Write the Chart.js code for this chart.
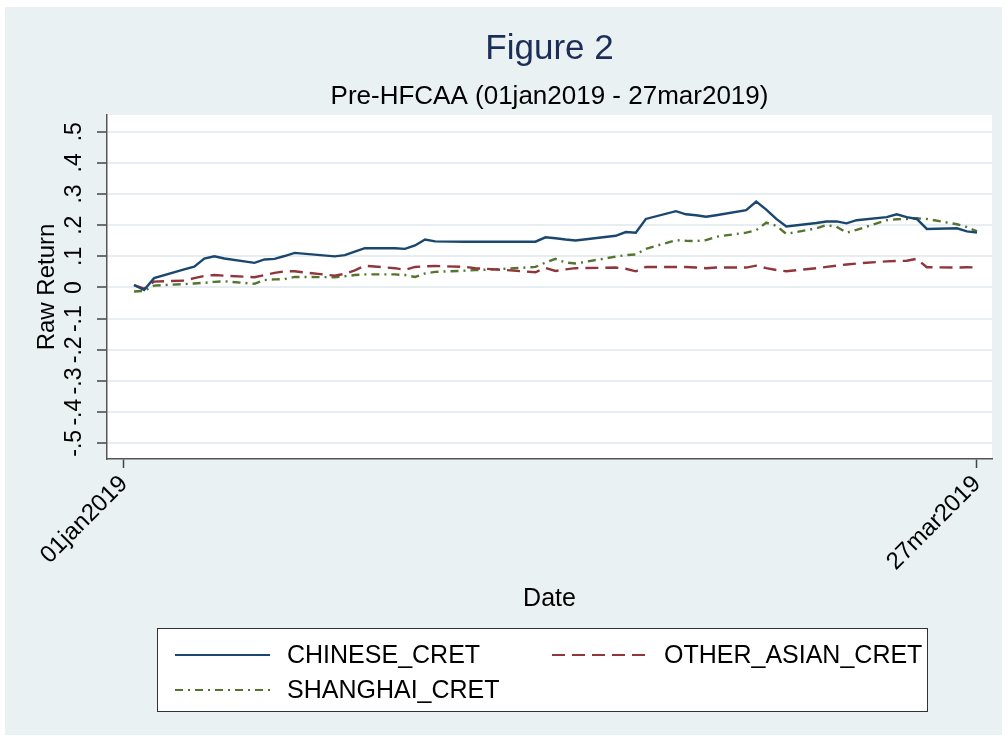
<!DOCTYPE html>
<html>
<head>
<meta charset="utf-8">
<script src="https://cdn.jsdelivr.net/npm/chart.js@4.4.1/dist/chart.umd.min.js"></script>
<style>
  html, body { margin: 0; padding: 0; background: #ffffff; }
  canvas { display: block; }
</style>
</head>
<body>
<canvas id="chart" width="1007" height="738"></canvas>
<script>
// Trading days, 01jan2019 - 27mar2019
const dates = [
  '2019-01-02','2019-01-03','2019-01-04','2019-01-07','2019-01-08','2019-01-09','2019-01-10','2019-01-11',
  '2019-01-14','2019-01-15','2019-01-16','2019-01-17','2019-01-18','2019-01-22','2019-01-23','2019-01-24',
  '2019-01-25','2019-01-28','2019-01-29','2019-01-30','2019-01-31',
  '2019-02-01','2019-02-04','2019-02-05','2019-02-06','2019-02-07','2019-02-08','2019-02-11','2019-02-12',
  '2019-02-13','2019-02-14','2019-02-15','2019-02-19','2019-02-20','2019-02-21','2019-02-22','2019-02-25',
  '2019-02-26','2019-02-27','2019-02-28',
  '2019-03-01','2019-03-04','2019-03-05','2019-03-06','2019-03-07','2019-03-08','2019-03-11','2019-03-12',
  '2019-03-13','2019-03-14','2019-03-15','2019-03-18','2019-03-19','2019-03-20','2019-03-21','2019-03-22',
  '2019-03-25','2019-03-26','2019-03-27'
];

// Cumulative raw returns
const chineseCret = [
  0.008, -0.008, 0.030, 0.058, 0.067, 0.093, 0.100, 0.093, 0.079, 0.090, 0.092, 0.101, 0.111, 0.100, 0.104,
  0.115, 0.126, 0.126, 0.124, 0.135, 0.154,
  0.148, 0.147, 0.147, 0.147, 0.147, 0.147, 0.147, 0.161, 0.158, 0.154, 0.151, 0.166, 0.178, 0.176, 0.220,
  0.245, 0.235, 0.232, 0.227,
  0.232, 0.248, 0.276, 0.250, 0.220, 0.196, 0.207, 0.212, 0.212, 0.206, 0.216, 0.226, 0.235, 0.226, 0.220,
  0.188, 0.190, 0.180, 0.176
];
const otherAsianCret = [
  0.008, -0.004, 0.019, 0.022, 0.030, 0.037, 0.040, 0.038, 0.033, 0.040, 0.047, 0.052, 0.052, 0.038, 0.044,
  0.055, 0.070, 0.062, 0.057, 0.066, 0.068,
  0.069, 0.066, 0.062, 0.060, 0.058, 0.056, 0.049, 0.063, 0.053, 0.058, 0.062, 0.064, 0.060, 0.052, 0.066,
  0.066, 0.066, 0.064, 0.062,
  0.064, 0.064, 0.070, 0.062, 0.056, 0.052, 0.062, 0.066, 0.070, 0.074, 0.077, 0.084, 0.085, 0.086, 0.092,
  0.065, 0.064, 0.065, 0.064
];
const shanghaiCret = [
  -0.013, -0.011, 0.006, 0.011, 0.013, 0.015, 0.018, 0.020, 0.012, 0.024, 0.026, 0.027, 0.034, 0.033, 0.036,
  0.040, 0.042, 0.042, 0.040, 0.034, 0.045,
  0.050, 0.054, 0.056, 0.057, 0.058, 0.060, 0.066, 0.080, 0.092, 0.080, 0.077, 0.099, 0.104, 0.106, 0.124,
  0.152, 0.150, 0.149, 0.152,
  0.163, 0.176, 0.184, 0.208, 0.198, 0.172, 0.190, 0.200, 0.195, 0.176, 0.185, 0.216, 0.219, 0.220, 0.222,
  0.220, 0.203, 0.194, 0.180
];

const seriesNames = ['CHINESE_CRET', 'OTHER_ASIAN_CRET', 'SHANGHAI_CRET'];

const yTickValues = [-0.5, -0.4, -0.3, -0.2, -0.1, 0, 0.1, 0.2, 0.3, 0.4, 0.5];
const yTickLabels = ['-.5', '-.4', '-.3', '-.2', '-.1', '0', '.1', '.2', '.3', '.4', '.5'];
const xTickDates = ['2019-01-01', '2019-03-27'];
const xTickLabels = ['01jan2019', '27mar2019'];

const FONT = '"Liberation Sans", Arial, Helvetica, sans-serif';
const EPOCH = Date.parse('2019-01-01T00:00:00Z');
const dayOf = s => (Date.parse(s + 'T00:00:00Z') - EPOCH) / 864e5;

const toPoints = vals => dates.map((d, i) => ({ x: dayOf(d), y: vals[i] }));
const xTickDays = xTickDates.map(dayOf);

// Background panels, titles, rotated y labels and the boxed legend
const stataFrame = {
  id: 'stataFrame',
  beforeDraw(chart) {
    const { ctx, chartArea: a, width, height } = chart;
    ctx.save();
    ctx.fillStyle = '#ffffff';
    ctx.fillRect(0, 0, width, height);
    ctx.fillStyle = '#e9f1f3';
    ctx.fillRect(5, 7, width - 10, height - 10);
    ctx.fillStyle = '#ffffff';
    ctx.fillRect(a.left, a.top, a.right - a.left, a.bottom - a.top);
    ctx.restore();
  },
  afterDraw(chart) {
    const { ctx, chartArea: a } = chart;
    const cx = (a.left + a.right) / 2;
    ctx.save();

    // titles
    ctx.textAlign = 'center';
    ctx.textBaseline = 'middle';
    ctx.fillStyle = '#1c2d57';
    ctx.font = '35px ' + FONT;
    ctx.fillText('Figure 2', cx, 49);
    ctx.fillStyle = '#000000';
    ctx.font = '26px ' + FONT;
    ctx.fillText('Pre-HFCAA (01jan2019 - 27mar2019)', cx, 97);

    // y tick labels, rotated
    const ys = chart.scales.y;
    ctx.font = '23px ' + FONT;
    ctx.fillStyle = '#000000';
    yTickValues.forEach((v, i) => {
      const py = ys.getPixelForValue(v);
      ctx.save();
      ctx.translate(a.left - 32, py);
      ctx.rotate(-Math.PI / 2);
      ctx.textAlign = 'center';
      ctx.textBaseline = 'middle';
      ctx.fillText(yTickLabels[i], 0, 0);
      ctx.restore();
    });

    // legend box
    const box = { x: 157.5, y: 628.5, w: 770, h: 83 };
    ctx.fillStyle = '#ffffff';
    ctx.fillRect(box.x, box.y, box.w, box.h);
    ctx.strokeStyle = '#333333';
    ctx.lineWidth = 1;
    ctx.strokeRect(box.x, box.y, box.w, box.h);

    const slots = [
      { x: 175, y: 655 },
      { x: 552, y: 655 },
      { x: 175, y: 690 }
    ];
    ctx.font = '25px ' + FONT;
    ctx.textAlign = 'left';
    ctx.textBaseline = 'middle';
    chart.data.datasets.forEach((ds, i) => {
      const s = slots[i];
      ctx.save();
      ctx.strokeStyle = ds.borderColor;
      ctx.lineWidth = 2;
      ctx.setLineDash(ds.borderDash || []);
      ctx.beginPath();
      ctx.moveTo(s.x, s.y);
      ctx.lineTo(s.x + 95, s.y);
      ctx.stroke();
      ctx.restore();
      ctx.fillStyle = '#000000';
      ctx.fillText(ds.label, s.x + 112, s.y + 1);
    });
    ctx.restore();
  }
};

new Chart(document.getElementById('chart'), {
  type: 'line',
  data: {
    datasets: [
      {
        label: seriesNames[0],
        data: toPoints(chineseCret),
        borderColor: '#1a476f',
        borderWidth: 2.4,
        borderDash: []
      },
      {
        label: seriesNames[1],
        data: toPoints(otherAsianCret),
        borderColor: '#90353b',
        borderWidth: 2.4,
        borderDash: [13, 7]
      },
      {
        label: seriesNames[2],
        data: toPoints(shanghaiCret),
        borderColor: '#55752f',
        borderWidth: 2.4,
        borderDash: [8, 5, 2, 5]
      }
    ]
  },
  options: {
    responsive: false,
    animation: false,
    devicePixelRatio: 1,
    layout: { padding: { top: 115, right: 15, bottom: 0, left: 0 } },
    elements: {
      point: { radius: 0, hoverRadius: 0 },
      line: { tension: 0, fill: false }
    },
    plugins: {
      legend: { display: false },
      title: { display: false },
      tooltip: { enabled: false }
    },
    scales: {
      x: {
        type: 'linear',
        min: -1.694,
        max: 86.495,
        afterFit(scale) { scale.height = 279; },
        afterBuildTicks(scale) { scale.ticks = xTickDays.map(v => ({ value: v })); },
        grid: {
          drawOnChartArea: false,
          drawTicks: true,
          tickLength: 9,
          tickColor: '#444444',
          tickWidth: 1.5
        },
        border: { display: true, color: '#555555', width: 1.5 },
        ticks: {
          autoSkip: false,
          minRotation: 45,
          maxRotation: 45,
          padding: 2,
          color: '#000000',
          font: { family: FONT, size: 24 },
          callback: v => {
            const k = xTickDays.indexOf(v);
            return k >= 0 ? xTickLabels[k] : '';
          }
        },
        title: {
          display: true,
          text: 'Date',
          color: '#000000',
          font: { family: FONT, size: 25 },
          padding: { top: 0, bottom: 124 }
        }
      },
      y: {
        type: 'linear',
        min: -0.5504,
        max: 0.5536,
        afterFit(scale) { scale.width = 107; },
        afterBuildTicks(scale) { scale.ticks = yTickValues.map(v => ({ value: v })); },
        grid: {
          color: '#e6eef1',
          lineWidth: 2,
          drawTicks: true,
          tickLength: 10,
          tickColor: '#444444',
          tickWidth: 1.5
        },
        border: { display: true, color: '#555555', width: 1.5 },
        ticks: { display: false },
        title: {
          display: true,
          text: 'Raw Return',
          color: '#000000',
          font: { family: FONT, size: 24 },
          padding: { top: 32.6, bottom: 0 }
        }
      }
    }
  },
  plugins: [stataFrame]
});
</script>
</body>
</html>
